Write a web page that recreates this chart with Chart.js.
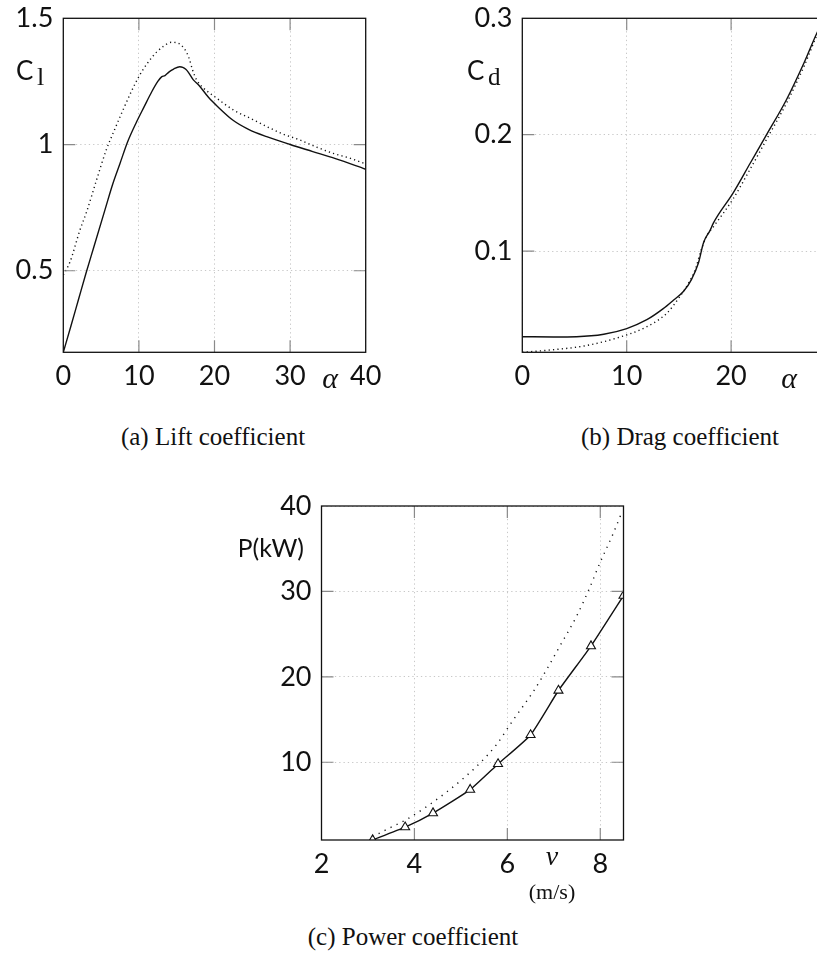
<!DOCTYPE html>
<html>
<head>
<meta charset="utf-8">
<script src="https://cdn.jsdelivr.net/npm/chart.js@4/dist/chart.umd.min.js"></script>
<style>
  html, body { margin: 0; padding: 0; background: #fff; }
  body { width: 817px; height: 971px; overflow: hidden; position: relative; }
  canvas { position: absolute; }
  .cap {
    position: absolute; font-family: "Liberation Serif", serif; font-size: 25px;
    line-height: 30px; color: #111; white-space: nowrap; transform: translateX(-50%);
  }
</style>
</head>
<body>
<canvas id="lift" width="400" height="420" style="left:0px;top:0px"></canvas>
<canvas id="drag" width="440" height="420" style="left:420px;top:0px"></canvas>
<canvas id="power" width="420" height="440" style="left:240px;top:480px"></canvas>
<div class="cap" style="left:213px;top:422px">(a) Lift coefficient</div>
<div class="cap" style="left:680px;top:422px">(b) Drag coefficient</div>
<div class="cap" style="left:413px;top:922px">(c) Power coefficient</div>

<script>
// ---- Lift coefficient C_l versus angle of attack alpha (degrees) ----
const liftSolidAlpha = [0, 1, 2, 3, 4, 5.5, 6.5, 7.5, 8.5, 9.7, 10.7, 11.7, 12.5, 13.0, 13.45, 14.0, 14.6, 15.4, 15.8, 16.2, 16.5, 17.2, 17.9, 19.2, 20.5, 22.5, 24.5, 26.9, 30, 33, 36, 40];
const liftSolidCl    = [0.177, 0.28, 0.385, 0.49, 0.59, 0.74, 0.84, 0.925, 1.01, 1.09, 1.15, 1.209, 1.25, 1.268, 1.273, 1.288, 1.299, 1.308, 1.306, 1.298, 1.288, 1.256, 1.236, 1.187, 1.148, 1.095, 1.06, 1.031, 1.0, 0.972, 0.944, 0.902];
const liftDotAlpha   = [0, 0.9, 2.2, 3.1, 4.4, 5.7, 6.8, 7.9, 9.0, 10.1, 11.2, 12.3, 13.3, 14.3, 15.2, 16.0, 16.6, 17.1, 17.6, 18.5, 20, 22.5, 25, 27, 29, 31.3, 33.5, 35.7, 38, 40];
const liftDotCl      = [0.483, 0.536, 0.661, 0.735, 0.86, 0.98, 1.06, 1.137, 1.21, 1.275, 1.325, 1.365, 1.39, 1.405, 1.401, 1.38, 1.345, 1.295, 1.258, 1.225, 1.19, 1.137, 1.10, 1.07, 1.042, 1.018, 0.99, 0.965, 0.945, 0.923];
const liftXTicks = [0, 10, 20, 30, 40];
const liftXLabels = ['0', '10', '20', '30', '40'];
const liftYTicks = [0.5, 1, 1.5];
const liftYLabels = ['0.5', '1', '1.5'];

// ---- Drag coefficient C_d versus alpha ----
const dragSolidAlpha = [0, 3, 5.2, 7.8, 10, 11.93, 13.5, 14.5, 15.45, 16.2, 16.87, 17.35, 18.0, 18.3, 20.2, 21.8, 23.4, 25.3, 27, 28.2, 30];
const dragSolidCd    = [0.0264, 0.0262, 0.0264, 0.0285, 0.0334, 0.041, 0.0505, 0.058, 0.0654, 0.0755, 0.0897, 0.107, 0.118, 0.124, 0.150, 0.175, 0.20, 0.230, 0.262, 0.287, 0.318];
const dragDotAlpha   = [0, 2.7, 5.9, 9.06, 11.93, 13.85, 15.1, 15.9, 16.6, 17.1, 17.6, 18.4, 20.2, 21.8, 23.4, 25.3, 27, 28.2, 30];
const dragDotCd      = [0.013, 0.015, 0.0184, 0.0253, 0.035, 0.0467, 0.061, 0.072, 0.085, 0.100, 0.112, 0.122, 0.145, 0.170, 0.196, 0.227, 0.259, 0.285, 0.317];
const dragXTicks = [0, 10, 20, 30];
const dragXLabels = ['0', '10', '20', '30'];
const dragYTicks = [0.1, 0.2, 0.3];
const dragYLabels = ['0.1', '0.2', '0.3'];

// ---- Power P (kW) versus wind speed V (m/s) ----
const powerMeasV = [3.1, 3.8, 4.4, 5.2, 5.8, 6.5, 7.1, 7.8, 8.5];
const powerMeasP = [0.9, 2.4, 4.05, 6.8, 9.8, 13.2, 18.4, 23.6, 29.5];
const powerDotV  = [3.1, 3.5, 3.83, 4.26, 4.69, 5.05, 5.41, 5.77, 6.12, 6.56, 6.84, 7.13, 7.49, 7.77, 7.99, 8.28, 8.46];
const powerDotP  = [1.3, 2.4, 3.3, 4.8, 6.5, 8.1, 9.9, 12.1, 14.9, 18.3, 20.8, 23.6, 27.1, 30.4, 33.3, 36.8, 39.2];
const powerXTicks = [2, 4, 6, 8];
const powerXLabels = ['2', '4', '6', '8'];
const powerYTicks = [10, 20, 30, 40];
const powerYLabels = ['10', '20', '30', '40'];

const zip = (xs, ys) => xs.map((x, i) => ({ x: x, y: ys[i] }));

const TICK_FONT = { family: 'Lato, "Open Sans", sans-serif', size: 27 };
const GRID_COLOR = '#c8c8c8';

// Frame round the plot area, short grey tick marks pointing inwards on all four sides,
// and the free-standing axis texts.
const framePlugin = {
  id: 'frame',
  afterDatasetsDraw(chart, args, opts) {
    const { ctx, chartArea: a, scales } = chart;
    ctx.save();
    ctx.strokeStyle = '#8a8a8a';
    ctx.lineWidth = 1.2;
    const len = 12;
    ctx.beginPath();
    scales.x.ticks.forEach(t => {
      const px = scales.x.getPixelForValue(t.value);
      if (px <= a.left + 1 || px >= a.right - 1) return;
      ctx.moveTo(px, a.bottom); ctx.lineTo(px, a.bottom - len);
      ctx.moveTo(px, a.top); ctx.lineTo(px, a.top + len);
    });
    scales.y.ticks.forEach(t => {
      const py = scales.y.getPixelForValue(t.value);
      if (py <= a.top + 1 || py >= a.bottom - 1) return;
      ctx.moveTo(a.left, py); ctx.lineTo(a.left + len, py);
      ctx.moveTo(a.right, py); ctx.lineTo(a.right - len, py);
    });
    ctx.stroke();
    ctx.strokeStyle = '#111';
    ctx.lineWidth = 1.3;
    ctx.strokeRect(a.left, a.top, a.right - a.left, a.bottom - a.top);
    ctx.restore();
  },
  afterDraw(chart, args, opts) {
    const ctx = chart.ctx;
    ctx.save();
    ctx.fillStyle = '#111';
    ctx.textBaseline = 'alphabetic';
    (opts.texts || []).forEach(t => {
      ctx.font = t.font;
      ctx.textAlign = t.align || 'left';
      ctx.fillText(t.text, t.x, t.y);
    });
    ctx.restore();
  }
};

function makeChart(id, cfg) {
  const area = cfg.area; // left, top, right, bottom of the plot area inside the canvas
  const canvas = document.getElementById(id);
  const labelFor = (values, labels) => (v) => {
    const i = values.findIndex(w => Math.abs(w - v) < 1e-9);
    return i >= 0 ? labels[i] : '';
  };
  return new Chart(canvas, {
    type: 'line',
    data: { datasets: cfg.datasets },
    options: {
      responsive: false,
      animation: false,
      events: [],
      layout: { padding: { left: 0, top: area.top, right: canvas.width - area.right, bottom: 0 } },
      plugins: { legend: { display: false }, tooltip: { enabled: false }, frame: { texts: cfg.texts } },
      scales: {
        x: {
          type: 'linear', min: cfg.xMin, max: cfg.xMax,
          afterBuildTicks: s => { s.ticks = cfg.xTicks.map(v => ({ value: v })); },
          afterFit: s => { s.height = canvas.height - area.bottom; s.paddingLeft = 0; s.paddingRight = 0; },
          ticks: { font: TICK_FONT, color: '#111', padding: 8, maxRotation: 0, autoSkip: false,
                   callback: labelFor(cfg.xTicks, cfg.xLabels) },
          grid: { color: GRID_COLOR, lineWidth: 1, drawTicks: false },
          border: { display: false, dash: [1.3, 3] }
        },
        y: {
          type: 'linear', min: cfg.yMin, max: cfg.yMax,
          afterBuildTicks: s => { s.ticks = cfg.yTicks.map(v => ({ value: v })); },
          afterFit: s => { s.width = area.left; s.paddingTop = 0; s.paddingBottom = 0; },
          ticks: { font: TICK_FONT, color: '#111', padding: 10, autoSkip: false,
                   callback: labelFor(cfg.yTicks, cfg.yLabels) },
          grid: { color: GRID_COLOR, lineWidth: 1, drawTicks: false },
          border: { display: false, dash: [1.3, 3] }
        }
      }
    },
    plugins: [framePlugin]
  });
}

const solid = (data) => ({ data, borderColor: '#111', borderWidth: 1.4, pointRadius: 0, fill: false, cubicInterpolationMode: 'monotone' });
const dotted = (data, gap) => ({ data, borderColor: '#111', borderWidth: 1.4, borderDash: [1.2, gap], pointRadius: 0, fill: false, cubicInterpolationMode: 'monotone' });

const MATH = '"Liberation Serif", "DejaVu Serif", serif';
const SANS = 'Lato, "Open Sans", sans-serif';

makeChart('lift', {
  area: { left: 63.3, top: 18.3, right: 365.7, bottom: 352.3 },
  xMin: 0, xMax: 40, yMin: 0.177, yMax: 1.5,
  xTicks: liftXTicks, xLabels: liftXLabels, yTicks: liftYTicks, yLabels: liftYLabels,
  datasets: [dotted(zip(liftDotAlpha, liftDotCl), 3.2), solid(zip(liftSolidAlpha, liftSolidCl))],
  texts: [
    { text: 'C', x: 16, y: 80, font: '26px ' + SANS },
    { text: 'l', x: 37, y: 85, font: '26px ' + MATH },
    { text: 'α', x: 330, y: 388, font: 'italic 30px ' + MATH, align: 'center' }
  ]
});

makeChart('drag', {
  area: { left: 102.3, top: 18.3, right: 415.5, bottom: 352.3 },
  xMin: 0, xMax: 30, yMin: 0.013, yMax: 0.3,
  xTicks: dragXTicks, xLabels: dragXLabels, yTicks: dragYTicks, yLabels: dragYLabels,
  datasets: [dotted(zip(dragDotAlpha, dragDotCd), 3.2), solid(zip(dragSolidAlpha, dragSolidCd))],
  texts: [
    { text: 'C', x: 47, y: 80, font: '26px ' + SANS },
    { text: 'd', x: 68, y: 85, font: '25px ' + MATH },
    { text: 'α', x: 369, y: 388, font: 'italic 30px ' + MATH, align: 'center' }
  ]
});

makeChart('power', {
  area: { left: 81.5, top: 26, right: 383.5, bottom: 360 },
  xMin: 2, xMax: 8.5, yMin: 0.9, yMax: 40,
  xTicks: powerXTicks, xLabels: powerXLabels, yTicks: powerYTicks, yLabels: powerYLabels,
  datasets: [
    dotted(zip(powerDotV, powerDotP), 5.5),
    Object.assign(solid(zip(powerMeasV, powerMeasP)), {
      cubicInterpolationMode: 'default', tension: 0.15,
      pointStyle: 'triangle', pointRadius: 5.2, pointBorderWidth: 1.1,
      pointBackgroundColor: '#fff', pointBorderColor: '#111'
    })
  ],
  texts: [
    { text: 'P(kW)', x: 64, y: 77, font: '25px ' + SANS, align: 'right' },
    { text: 'v', x: 312, y: 385, font: 'italic 28px ' + MATH, align: 'center' },
    { text: '(m/s)', x: 312, y: 419, font: '22px ' + MATH, align: 'center' }
  ]
});
</script>
</body>
</html>
